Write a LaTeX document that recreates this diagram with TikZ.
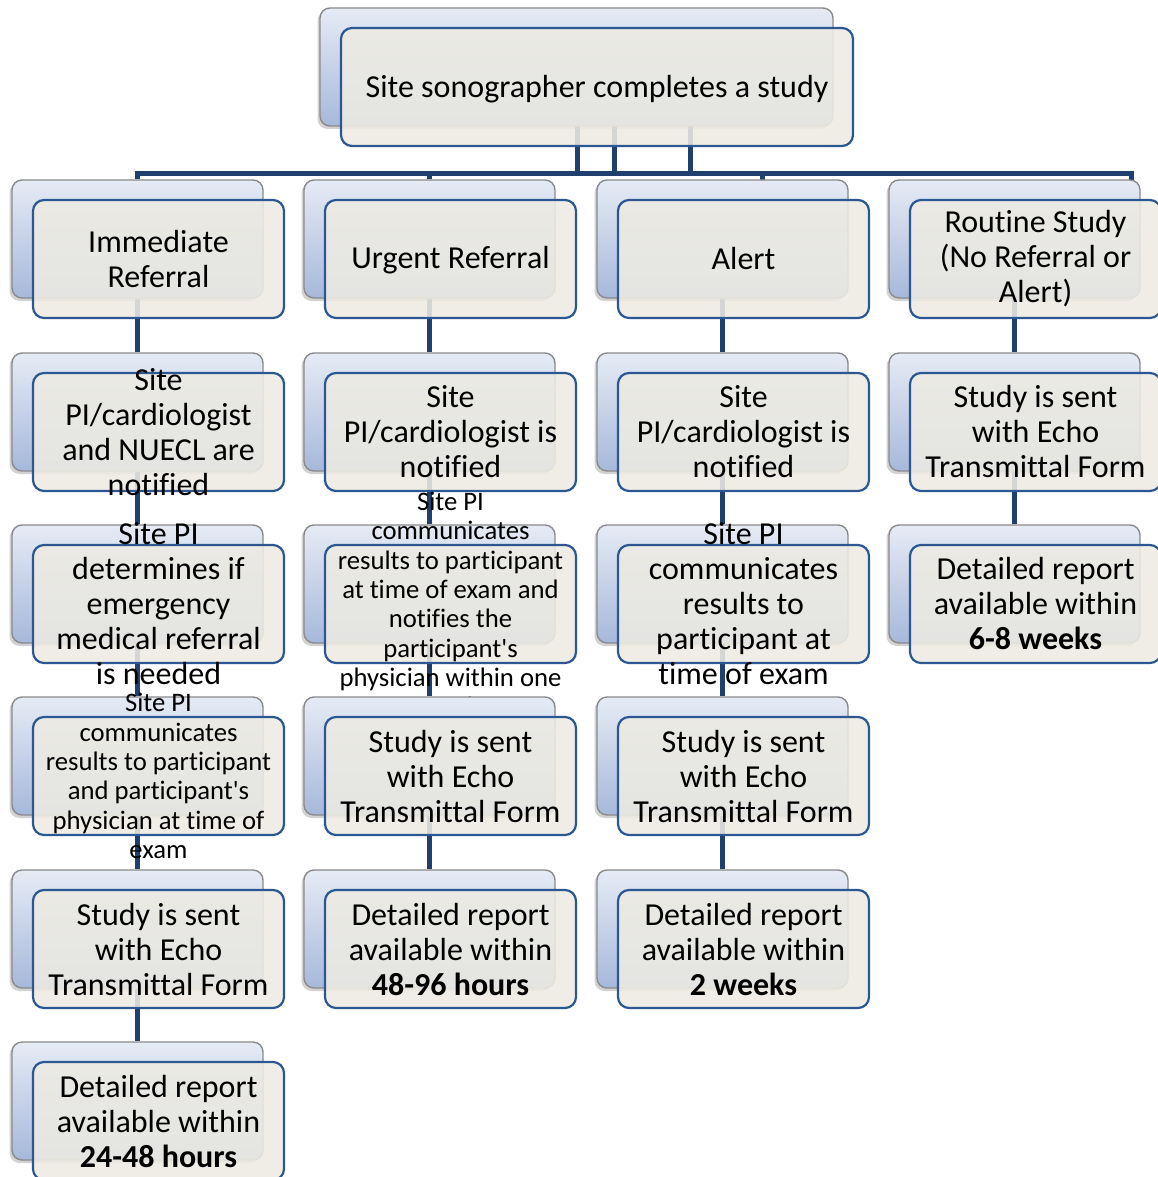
\documentclass[tikz,border=0pt]{standalone}
\usepackage{fontspec}
\setmainfont{Carlito}[Ligatures={TeXOff,NoCommon},RawFeature={-liga;-clig;-calt;-dlig}]
\usetikzlibrary{shadows}
\pgfdeclarelayer{paper}
\pgfdeclarelayer{bg}
\pgfsetlayers{paper,bg,main}
\definecolor{frontfill}{HTML}{EDEBE3}
\definecolor{frontline}{HTML}{2B5792}
\definecolor{backline}{HTML}{8A8A8A}
\definecolor{backtop}{HTML}{E6EBF5}
\definecolor{backbot}{HTML}{A6B8DA}
\definecolor{connc}{HTML}{1F3F6E}
\begin{document}
\begin{tikzpicture}[x=1pt,y=-1pt,
  backbox/.style={draw=backline, line width=1.4pt, rounded corners=10pt,
    top color=backtop, bottom color=backbot, minimum width=251pt,
    minimum height=118pt, inner sep=0pt,
    drop shadow={shadow xshift=-2.5pt, shadow yshift=-3pt, opacity=0.35}},
  frontbox/.style={draw=frontline, line width=2.2pt, rounded corners=11pt,
    fill=frontfill, fill opacity=0.88, minimum width=251pt,
    minimum height=118pt, inner sep=0pt},
  lbl/.style={align=center, inner sep=0pt, text=black,
    font=\fontsize{32}{35}\selectfont},
  smalllbl/.style={lbl, font=\fontsize{26.7}{29.3}\selectfont},
  conn/.style={draw=connc, line width=5pt, line join=miter},
]
\begin{pgfonlayer}{paper}
\fill[white] (0,0) rectangle (1157,1177);
\end{pgfonlayer}
\useasboundingbox (0,0) rectangle (1157,1177);

% top
\node[backbox, minimum width=513pt] (tops) at (576.5,67) {};
\node[frontbox, minimum width=512pt] (topf) at (597,87) {};
\node[lbl] (topt) at (597,89) {Site sonographer completes a study};

\coordinate (b1) at (577,174);
\coordinate (b2) at (614,174);
\coordinate (b3) at (690,174);
\coordinate (busL) at (137.5,174);
\coordinate (busR) at (1131,174);
\coordinate (k2) at (429.5,174);
\coordinate (k3) at (762,174);

% row 1
\node[backbox] (s11) at (137.5,239) {};
\node[frontbox] (f11) at (158.5,259) {};
\node[lbl] (t11) at (f11) {Immediate\\Referral};
\node[backbox] (s21) at (429.5,239) {};
\node[frontbox] (f21) at (450.5,259) {};
\node[lbl] (t21) at (450.5,260) {Urgent Referral};
\node[backbox] (s31) at (722.5,239) {};
\node[frontbox] (f31) at (743.5,259) {};
\node[lbl] (t31) at (f31) {Alert};
\node[backbox] (s41) at (1014.5,239) {};
\node[frontbox] (f41) at (1035.5,259) {};
\node[lbl] (t41) at (f41) {Routine Study\\(No Referral or\\Alert)};

% row 2
\node[backbox] (s12) at (137.5,412) {};
\node[frontbox] (f12) at (158.5,432) {};
\node[lbl] (t12) at (f12) {Site\\PI/cardiologist\\and NUECL are\\notified};
\node[backbox] (s22) at (429.5,412) {};
\node[frontbox] (f22) at (450.5,432) {};
\node[lbl] (t22) at (f22) {Site\\PI/cardiologist is\\notified};
\node[backbox] (s32) at (722.5,412) {};
\node[frontbox] (f32) at (743.5,432) {};
\node[lbl] (t32) at (f32) {Site\\PI/cardiologist is\\notified};
\node[backbox] (s42) at (1014.5,412) {};
\node[frontbox] (f42) at (1035.5,432) {};
\node[lbl] (t42) at (f42) {Study is sent\\with Echo\\Transmittal Form};

% row 3
\node[backbox] (s13) at (137.5,584) {};
\node[frontbox] (f13) at (158.5,604) {};
\node[lbl] (t13) at (f13) {Site PI\\determines if\\emergency\\medical referral\\is needed};
\node[backbox] (s23) at (429.5,584) {};
\node[frontbox] (f23) at (450.5,604) {};
\node[smalllbl] (t23) at (f23) {Site PI\\communicates\\results to participant\\at time of exam and\\notifies the\\participant's\\physician within one\\week};
\node[backbox] (s33) at (722.5,584) {};
\node[frontbox] (f33) at (743.5,604) {};
\node[lbl] (t33) at (f33) {Site PI\\communicates\\results to\\participant at\\time of exam};
\node[backbox] (s43) at (1014.5,584) {};
\node[frontbox] (f43) at (1035.5,604) {};
\node[lbl] (t43) at (f43) {Detailed report\\available within\\\textbf{6-8 weeks}};

% row 4
\node[backbox] (s14) at (137.5,756) {};
\node[frontbox] (f14) at (158.5,776) {};
\node[smalllbl] (t14) at (f14) {Site PI\\communicates\\results to participant\\and participant's\\physician at time of\\exam};
\node[backbox] (s24) at (429.5,756) {};
\node[frontbox] (f24) at (450.5,776) {};
\node[lbl] (t24) at (f24) {Study is sent\\with Echo\\Transmittal Form};
\node[backbox] (s34) at (722.5,756) {};
\node[frontbox] (f34) at (743.5,776) {};
\node[lbl] (t34) at (f34) {Study is sent\\with Echo\\Transmittal Form};

% row 5
\node[backbox] (s15) at (137.5,929) {};
\node[frontbox] (f15) at (158.5,949) {};
\node[lbl] (t15) at (f15) {Study is sent\\with Echo\\Transmittal Form};
\node[backbox] (s25) at (429.5,929) {};
\node[frontbox] (f25) at (450.5,949) {};
\node[lbl] (t25) at (f25) {Detailed report\\available within\\\textbf{48-96 hours}};
\node[backbox] (s35) at (722.5,929) {};
\node[frontbox] (f35) at (743.5,949) {};
\node[lbl] (t35) at (f35) {Detailed report\\available within\\\textbf{2 weeks}};

% row 6
\node[backbox] (s16) at (137.5,1101) {};
\node[frontbox] (f16) at (158.5,1121) {};
\node[lbl] (t16) at (f16) {Detailed report\\available within\\\textbf{24-48 hours}};

% connectors behind the boxes
\begin{pgfonlayer}{bg}
\draw[conn] (b1 |- tops) -- (b1);
\draw[conn] (b2 |- tops) -- (b2);
\draw[conn] (b3 |- tops) -- (b3);
\draw[conn] (s11) -- (busL) -- (busR) -- (busR |- s41);
\draw[conn] (k2) -- (s21);
\draw[conn] (k3) -- (k3 |- s31);
\draw[conn] (s11) -- (s12) -- (s13) -- (s14) -- (s15) -- (s16);
\draw[conn] (s21) -- (s22) -- (s23) -- (s24) -- (s25);
\draw[conn] (s31) -- (s32) -- (s33) -- (s34) -- (s35);
\draw[conn] (s41) -- (s42) -- (s43);
\end{pgfonlayer}
\end{tikzpicture}
\end{document}
